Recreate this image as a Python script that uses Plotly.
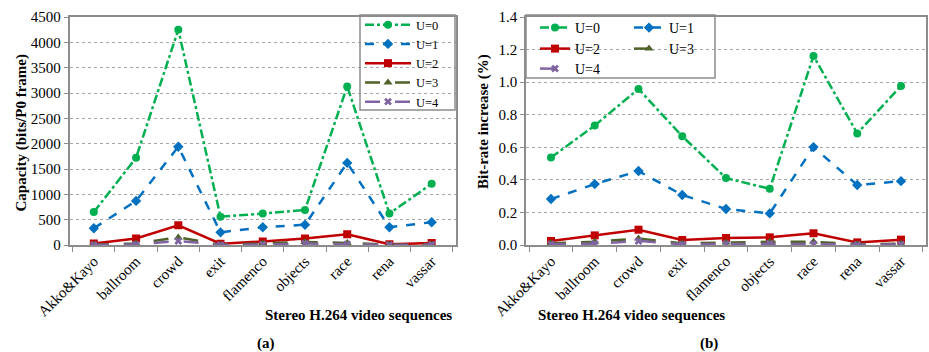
import plotly.graph_objects as go

W, H = 929, 352

categories = ["Akko&Kayo", "ballroom", "crowd", "exit", "flamenco", "objects", "race", "rena", "vassar"]
series_names = ["U=0", "U=1", "U=2", "U=3", "U=4"]

capacity_u0 = [650, 1720, 4250, 560, 620, 690, 3130, 620, 1210]
capacity_u1 = [330, 870, 1940, 250, 350, 400, 1620, 350, 450]
capacity_u2 = [30, 130, 390, 25, 70, 130, 210, 13, 40]
capacity_u3 = [5, 30, 150, 5, 30, 60, 40, 5, 10]
capacity_u4 = [2, 10, 80, 2, 10, 30, 15, 2, 5]

bitrate_u0 = [0.537, 0.734, 0.958, 0.668, 0.411, 0.345, 1.161, 0.685, 0.977]
bitrate_u1 = [0.282, 0.374, 0.454, 0.307, 0.221, 0.194, 0.601, 0.368, 0.392]
bitrate_u2 = [0.025, 0.059, 0.094, 0.031, 0.043, 0.047, 0.072, 0.016, 0.033]
bitrate_u3 = [0.010, 0.020, 0.040, 0.010, 0.015, 0.020, 0.020, 0.005, 0.008]
bitrate_u4 = [0.005, 0.008, 0.025, 0.004, 0.006, 0.008, 0.006, 0.002, 0.004]

cap_ticks = list(range(0, 4501, 500))
br_ticks = [0.0, 0.2, 0.4, 0.6, 0.8, 1.0, 1.2, 1.4]

capacity = [capacity_u0, capacity_u1, capacity_u2, capacity_u3, capacity_u4]
bitrate = [bitrate_u0, bitrate_u1, bitrate_u2, bitrate_u3, bitrate_u4]

colors = ["#00B050", "#0070C0", "#C00000", "#4F6228", "#8064A2"]
dashes = ["dashdot", "dash", "solid", "longdash", "longdash"]
symbols = ["circle", "diamond", "square", "triangle-up", "x"]
msizes = [8, 8, 8, 8, 7]

FONT = "Liberation Serif"

fig = go.Figure()

for i in range(5):
    fig.add_trace(go.Scatter(
        x=categories, y=capacity[i], name=series_names[i], mode="lines+markers",
        line=dict(color=colors[i], width=2.5, dash=dashes[i]),
        marker=dict(color=colors[i], symbol=symbols[i], size=msizes[i]),
        xaxis="x", yaxis="y", legend="legend",
    ))

right_leg = ["legend2", "legend2", "legend3", "legend3", "legend4"]
for i in range(5):
    fig.add_trace(go.Scatter(
        x=categories, y=bitrate[i], name=series_names[i], mode="lines+markers",
        line=dict(color=colors[i], width=2.5, dash=dashes[i]),
        marker=dict(color=colors[i], symbol=symbols[i], size=msizes[i]),
        xaxis="x2", yaxis="y2", legend=right_leg[i],
    ))

def px(x):
    return x / W

def py(y):
    return 1 - y / H

ydom = [py(245), py(17)]

axis_common = dict(
    showline=True, linecolor="#8C8C8C", linewidth=1.5, mirror=True, automargin=False,
)
xtick_font = dict(family=FONT, size=15, color="black")
ytick_font = dict(family=FONT, size=15, color="black")

leg_font = dict(family=FONT, size=14, color="black")
leg_font_left = dict(family=FONT, size=12.5, color="black")
title_font = dict(family=FONT, size=15, color="black")

fig.update_layout(
    width=W, height=H,
    margin=dict(l=0, r=0, t=0, b=0),
    paper_bgcolor="white", plot_bgcolor="white",
    font=dict(family=FONT, color="black"),
    xaxis=dict(domain=[px(69.5), px(456)], anchor="y", type="category",
               tickangle=-45, ticks="outside", tickson="boundaries", ticklen=5,
               tickcolor="#8C8C8C", showgrid=False, tickfont=xtick_font, **axis_common),
    yaxis=dict(domain=ydom, anchor="x", range=[0, 4500], tickvals=cap_ticks,
               ticks="outside", ticklen=4, tickcolor="#8C8C8C",
               showgrid=True, gridcolor="#A6A6A6", griddash="3px,3px", gridwidth=1,
               zeroline=False, tickfont=ytick_font, **axis_common),
    xaxis2=dict(domain=[px(526), px(926)], anchor="y2", type="category",
                tickangle=-45, ticks="outside", tickson="boundaries", ticklen=5,
                tickcolor="#8C8C8C", showgrid=False, tickfont=xtick_font, **axis_common),
    yaxis2=dict(domain=ydom, anchor="x2", range=[0, 1.4], tickvals=br_ticks,
                tickformat=".1f", ticks="outside", ticklen=4, tickcolor="#8C8C8C",
                showgrid=True, gridcolor="#A6A6A6", griddash="3px,3px", gridwidth=1,
                zeroline=False, tickfont=ytick_font, **axis_common),
    legend=dict(x=px(360), y=py(10), xanchor="left", yanchor="top",
                bgcolor="rgba(0,0,0,0)", borderwidth=0,
                font=leg_font_left, tracegroupgap=0, itemwidth=46),
    legend2=dict(x=px(535), y=py(12), xanchor="left", yanchor="top", orientation="h",
                 bgcolor="rgba(0,0,0,0)", font=leg_font,
                 entrywidth=49, entrywidthmode="pixels"),
    legend3=dict(x=px(535), y=py(33), xanchor="left", yanchor="top", orientation="h",
                 bgcolor="rgba(0,0,0,0)", font=leg_font,
                 entrywidth=49, entrywidthmode="pixels"),
    legend4=dict(x=px(535), y=py(53), xanchor="left", yanchor="top", orientation="h",
                 bgcolor="rgba(0,0,0,0)", font=leg_font,
                 entrywidth=49, entrywidthmode="pixels"),
    shapes=[
        dict(type="rect", xref="paper", yref="paper",
             x0=px(526), x1=px(715), y0=py(78), y1=py(15),
             line=dict(color="#8C8C8C", width=1.5), fillcolor="rgba(0,0,0,0)"),
        dict(type="rect", xref="paper", yref="paper",
             x0=px(360), x1=px(455), y0=py(110), y1=py(15),
             line=dict(color="#8C8C8C", width=1.5), fillcolor="rgba(0,0,0,0)"),
    ],
    annotations=[
        dict(text="<b>Capacity (bits/P0 frame)</b>", x=px(10), y=py(133), xref="paper", yref="paper",
             textangle=-90, showarrow=False, font=title_font),
        dict(text="<b>Bit-rate increase (%)</b>", x=px(483), y=py(122), xref="paper", yref="paper",
             textangle=-90, showarrow=False, font=title_font),
        dict(text="<b>Stereo H.264 video sequences</b>", x=px(263), y=py(315), xref="paper", yref="paper",
             yanchor="middle", showarrow=False, font=title_font),
        dict(text="<b>Stereo H.264 video sequences</b>", x=px(727), y=py(315), xref="paper", yref="paper",
             yanchor="middle", showarrow=False, font=title_font),
        dict(text="<b>(a)</b>", x=px(255), y=py(343), xref="paper", yref="paper",
             yanchor="middle", showarrow=False, font=title_font),
        dict(text="<b>(b)</b>", x=px(720), y=py(343), xref="paper", yref="paper",
             yanchor="middle", showarrow=False, font=title_font),
    ],
)

fig.write_html("out.html")
